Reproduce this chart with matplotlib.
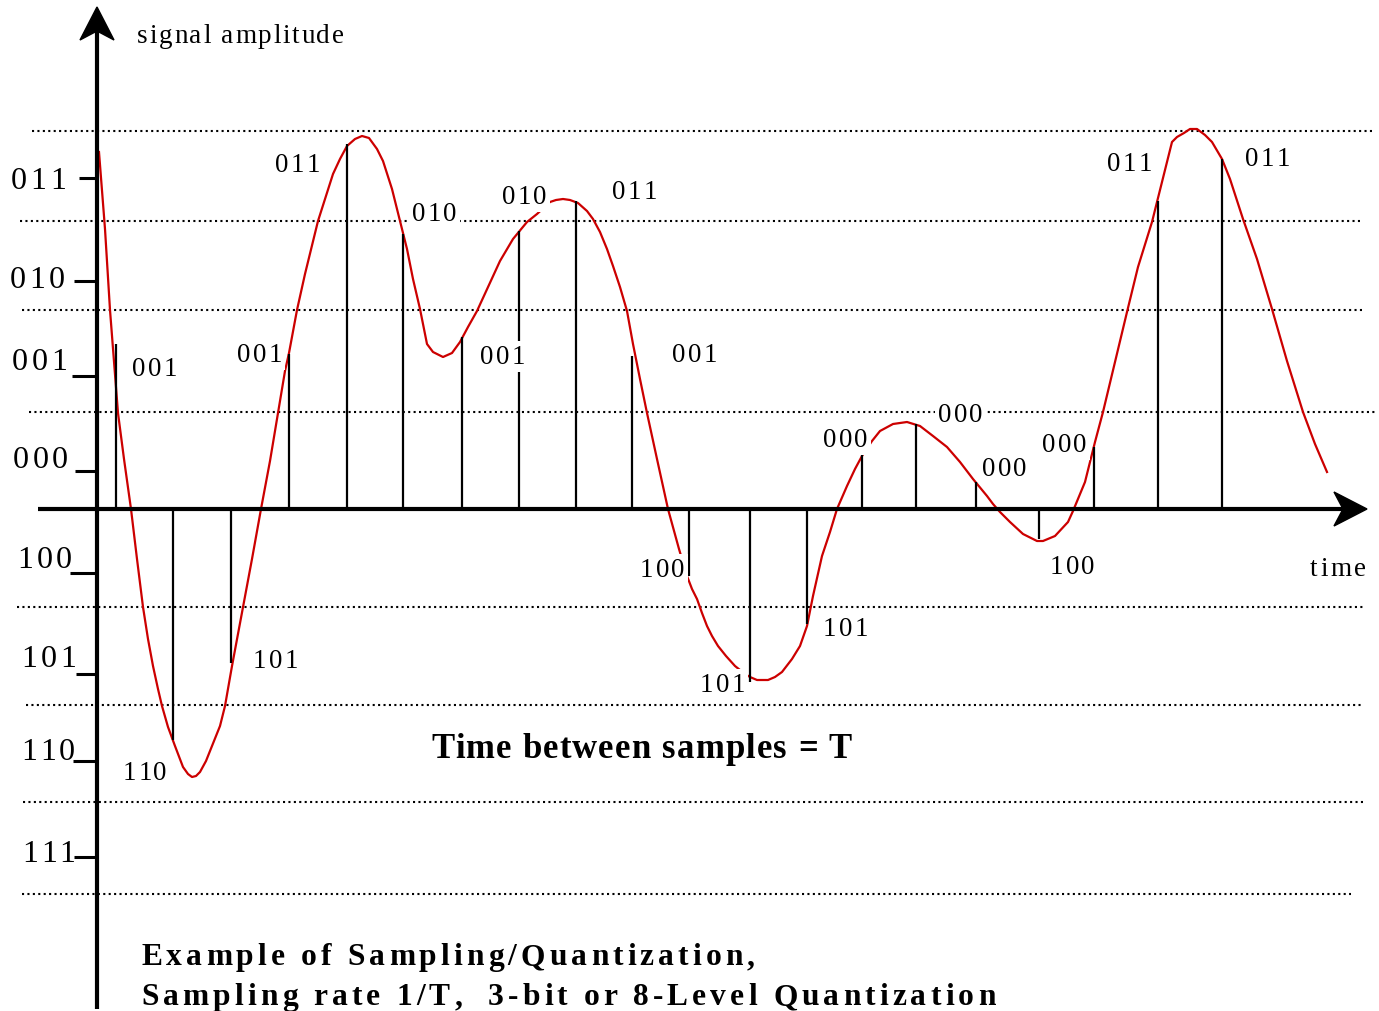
import matplotlib.pyplot as plt
import numpy as np
from matplotlib.patches import Polygon

plt.rcParams['font.family'] = ['Liberation Serif', 'DejaVu Serif']

# everything is laid out in the picture's own pixel frame (y grows downward)
W, H = 1379, 1012
x0, y0 = 97, 510          # origin of the time / amplitude axes

# quantization levels (dotted lines): y, left end, right end
level_y = [132, 222, 311, 413, 608, 706, 803, 895]
level_x1 = [32, 20, 22, 29, 17, 26, 23, 22]
level_x2 = [1375, 1362, 1363, 1375, 1364, 1361, 1363, 1351]

# code names on the amplitude axis
codes_left = ["011", "010", "001", "000", "100", "101", "110", "111"]
code_tick_y = [179, 282, 377, 472, 574, 675, 762, 858]
code_tick_x1 = [79, 74, 72, 75, 70, 76, 73, 74]
code_label_x = [11, 10, 12, 13, 17, 21, 21, 22]
code_label_y = [178, 277, 359, 457, 557, 656, 749, 851]

# samples: time position, sampled amplitude, assigned code
sample_t = [116, 173, 231, 289, 347, 403, 462, 519, 576, 632,
            689, 750, 807, 862, 916, 976, 1039, 1094, 1158, 1222]
sample_v = [345, 741, 664, 355, 145, 235, 338, 232, 202, 357,
            577, 683, 625, 456, 425, 483, 540, 448, 202, 160]
sample_code = ["001", "110", "101", "001", "011", "010", "001", "010", "011", "001",
               "100", "101", "101", "000", "000", "000", "100", "000", "011", "011"]
# where each code label sits (left x, centre y)
label_x = [132, 123, 253, 237, 275, 412, 480, 502, 612, 672,
           640, 700, 823, 823, 938, 982, 1050, 1042, 1107, 1245]
label_y = [367, 771, 659, 353, 163, 212, 355, 195, 190, 353,
           568, 683, 627, 438, 413, 467, 565, 443, 162, 157]

# analogue signal
sig_t = [99, 105, 110, 118, 124, 131, 137, 143, 148, 153, 158, 162, 168, 175, 183,
         188, 192, 196, 200, 206, 212, 220, 225, 232, 243, 252, 261, 270, 278, 285,
         289, 297, 305, 318, 333, 340, 347, 355, 362, 369, 377, 383, 392, 400, 407,
         413, 420, 427, 433, 443, 452, 460, 468, 477, 488, 500, 513, 527, 537, 550,
         556, 563, 570, 578, 587, 593, 600, 607, 613, 620, 627, 633, 640, 647, 657,
         668, 674, 679, 687, 692, 697, 702, 707, 712, 718, 726, 735, 745, 750, 757,
         768, 775, 782, 792, 800, 807, 813, 818, 822, 830, 837, 847, 855, 862, 872,
         880, 893, 907, 920, 933, 947, 960, 973, 987, 993, 1000, 1010, 1023, 1037,
         1043, 1055, 1068, 1073, 1085, 1095, 1103, 1115, 1127, 1138, 1152, 1162, 1172,
         1177, 1184, 1190, 1197, 1205, 1212, 1222, 1230, 1243, 1257, 1272, 1287, 1303,
         1315, 1327]
sig_v = [153, 230, 311, 414, 460, 510, 560, 608, 640, 667, 690, 707, 728, 747, 768,
         775, 778, 777, 773, 762, 747, 727, 707, 667, 608, 560, 510, 462, 414, 372,
         354, 311, 275, 222, 175, 160, 147, 140, 137, 139, 150, 162, 190, 222, 250,
         280, 310, 345, 353, 358, 354, 343, 328, 312, 288, 262, 240, 223, 215, 203,
         201, 200, 201, 204, 212, 220, 233, 250, 267, 288, 312, 345, 380, 414, 460,
         510, 532, 550, 577, 590, 600, 614, 627, 637, 647, 657, 667, 675, 678, 681,
         681, 678, 673, 660, 647, 627, 597, 575, 557, 533, 510, 487, 470, 457, 442,
         432, 425, 423, 427, 437, 448, 463, 480, 497, 505, 513, 523, 535, 542,
         542, 537, 523, 512, 483, 443, 413, 363, 313, 268, 223, 183, 143,
         138, 134, 130, 130, 136, 143, 160, 180, 220, 260, 310, 362, 413,
         445, 473]

fig = plt.figure(figsize=(W / 100, H / 100), dpi=100)
ax = fig.add_axes([0, 0, 1, 1])
ax.set_xlim(0, W)
ax.set_ylim(H, 0)
ax.axis("off")
renderer = fig.canvas.get_renderer()


def spaced_text(x, y, s, spacing, boxed=False, **kw):
    # the original lettering is tracked out, so place the characters one by one
    def width(part):
        t = ax.text(0, 0, part + "|", **kw)
        w = t.get_window_extent(renderer).width
        t.remove()
        return w
    bar = width("")
    for i, ch in enumerate(s):
        if ch == " ":
            continue
        cx = x + width(s[:i]) - bar + i * spacing
        if boxed:
            # white knock-out first, glyph on top so neighbours don't clip it
            ax.text(cx, y, ch, ha="left", va="baseline", color="white", zorder=6,
                    bbox=dict(boxstyle="square,pad=0.12", fc="white", ec="none"), **kw)
        ax.text(cx, y, ch, ha="left", va="baseline", zorder=7, **kw)


# dotted quantization levels
for y, a, b in zip(level_y, level_x1, level_x2):
    ax.plot([a, b], [y, y], color="black", lw=1.5, ls=(0, (1, 1.6)), zorder=1)

# signal
ax.plot(sig_t, sig_v, color="#cc0000", lw=1.6, zorder=2)

# samples
ax.vlines(sample_t, y0, sample_v, color="black", lw=1.6, zorder=3)


def arrow_head(tip, direction, length=33, half=17, notch=9):
    tx, ty = tip
    dx, dy = direction
    px, py = -dy, dx
    bx, by = tx - dx * length, ty - dy * length
    nx, ny = tx - dx * (length - notch), ty - dy * (length - notch)
    return [(tx, ty), (bx + px * half, by + py * half), (nx, ny),
            (bx - px * half, by - py * half)]


# axes with arrow heads
ax.plot([38, 1345], [y0, y0], color="black", lw=3, solid_capstyle="butt", zorder=4)
ax.plot([x0, x0], [1010, 30], color="black", lw=3, solid_capstyle="butt", zorder=4)
ax.add_patch(Polygon(arrow_head((1367, y0), (1, 0)), closed=True, fc="black", ec="black", zorder=5))
ax.add_patch(Polygon(arrow_head((x0, 8), (0, -1)), closed=True, fc="black", ec="black", zorder=5))

# amplitude axis ticks and code names
for y, a in zip(code_tick_y, code_tick_x1):
    ax.plot([a, x0], [y, y], color="black", lw=2.2, solid_capstyle="butt", zorder=4)
for name, x, y in zip(codes_left, code_label_x, code_label_y):
    spaced_text(x, y + 11, name, 3.5, fontsize=23)

# code of each sample (white box hides what lies under it)
for name, x, y in zip(sample_code, label_x, label_y):
    spaced_text(x, y + 9, name, 2.3, boxed=True, fontsize=19.3)

spaced_text(137, 43, "signal amplitude", 1.8, fontsize=19.5)
spaced_text(1310, 576, "time", 2.5, fontsize=19.5)
spaced_text(431, 758, "Time between samples = T", 1.2, fontsize=25, fontweight="bold")
spaced_text(141, 965, "Example of Sampling/Quantization,", 4.1, fontsize=22.7,
            fontweight="bold")
spaced_text(141, 1005, "Sampling rate 1/T,  3-bit or 8-Level Quantization", 4.1,
            fontsize=22.7, fontweight="bold")

fig.savefig("out.png", dpi=100, facecolor="white")
